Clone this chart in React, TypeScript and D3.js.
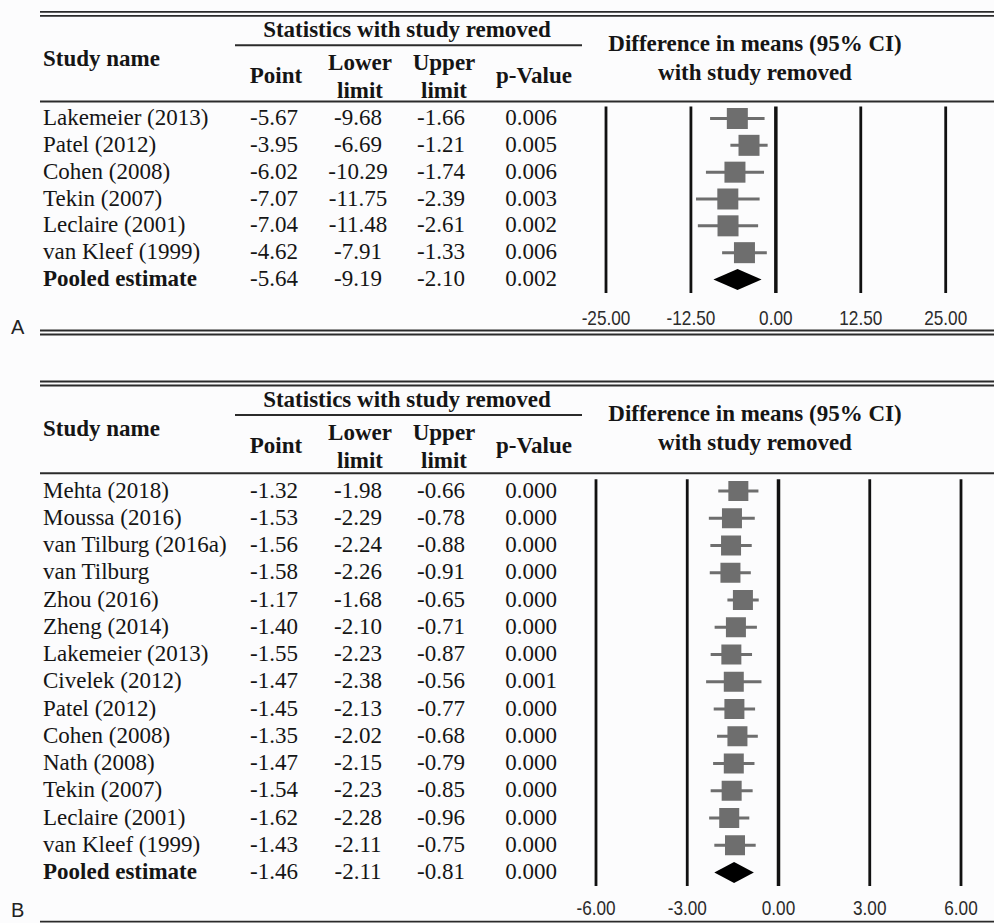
import React from "react";
import * as d3 from "d3";

// ---- panel A data ----
const studiesA = ["Lakemeier (2013)", "Patel (2012)", "Cohen (2008)", "Tekin (2007)", "Leclaire (2001)", "van Kleef (1999)"];
const pointA = [-5.67, -3.95, -6.02, -7.07, -7.04, -4.62];
const lowerA = [-9.68, -6.69, -10.29, -11.75, -11.48, -7.91];
const upperA = [-1.66, -1.21, -1.74, -2.39, -2.61, -1.33];
const pValA = ["0.006", "0.005", "0.006", "0.003", "0.002", "0.006"];
const pooledA = { point: -5.64, lower: -9.19, upper: -2.1, p: "0.002" };
const ticksA = [-25, -12.5, 0, 12.5, 25];

// ---- panel B data ----
const studiesB = [
  "Mehta (2018)", "Moussa (2016)", "van Tilburg (2016a)", "van Tilburg", "Zhou (2016)",
  "Zheng (2014)", "Lakemeier (2013)", "Civelek (2012)", "Patel (2012)", "Cohen (2008)",
  "Nath (2008)", "Tekin (2007)", "Leclaire (2001)", "van Kleef (1999)",
];
const pointB = [-1.32, -1.53, -1.56, -1.58, -1.17, -1.4, -1.55, -1.47, -1.45, -1.35, -1.47, -1.54, -1.62, -1.43];
const lowerB = [-1.98, -2.29, -2.24, -2.26, -1.68, -2.1, -2.23, -2.38, -2.13, -2.02, -2.15, -2.23, -2.28, -2.11];
const upperB = [-0.66, -0.78, -0.88, -0.91, -0.65, -0.71, -0.87, -0.56, -0.77, -0.68, -0.79, -0.85, -0.96, -0.75];
const pValB = ["0.000", "0.000", "0.000", "0.000", "0.000", "0.000", "0.000", "0.001", "0.000", "0.000", "0.000", "0.000", "0.000", "0.000"];
const pooledB = { point: -1.46, lower: -2.11, upper: -0.81, p: "0.000" };
const ticksB = [-6, -3, 0, 3, 6];

const W = 994;
const H = 923;
const SERIF = "'Liberation Serif', 'Times New Roman', serif";
const SANS = "'Liberation Sans', Arial, sans-serif";
const INK = "#151515";
const GREY = "#6e6e6e";

// column centres of the table
const COL = { name: 43, point: 274, lower: 358, upper: 441, p: 531 };
const HEAD = { point: 276, lower: 360, upper: 444, p: 534 };

function DoubleLine({ y }: { y: number }) {
  return (
    <g stroke="#2b2b2b" strokeWidth={1.8}>
      <line x1={40} x2={W} y1={y} y2={y} />
      <line x1={40} x2={W} y1={y + 4} y2={y + 4} />
    </g>
  );
}

function ForestPanel(props: any) {
  const {
    studies, points, lowers, uppers, pvals, pooled, ticks,
    xDomain, xRange, y0, headBottom, rowFirst, rowLast,
    lineTop, lineBottom, tickY, bottomY, label, labelY, sq,
  } = props;

  const n = studies.length;
  const x = d3.scaleLinear().domain(xDomain).range(xRange);
  const y = d3.scalePoint<number>().domain(d3.range(n + 1)).range([rowFirst, rowLast]);
  const fmt = (v: number) => v.toFixed(2);
  const textDy = 6.5;
  const pd = y(n)!;
  const dh = 10.5;

  return (
    <g>
      {/* header */}
      <DoubleLine y={y0} />
      <g fontFamily={SERIF} fontWeight="bold" fontSize={23} fill={INK}>
        <text x={407} y={y0 + 25.5} textAnchor="middle">Statistics with study removed</text>
        <text x={COL.name} y={y0 + 54}>Study name</text>
        <text x={HEAD.point} y={y0 + 71.5} textAnchor="middle">Point</text>
        <text x={HEAD.lower} y={y0 + 58} textAnchor="middle">Lower</text>
        <text x={HEAD.lower} y={y0 + 86.5} textAnchor="middle">limit</text>
        <text x={HEAD.upper} y={y0 + 58} textAnchor="middle">Upper</text>
        <text x={HEAD.upper} y={y0 + 86.5} textAnchor="middle">limit</text>
        <text x={HEAD.p} y={y0 + 71} textAnchor="middle">p-Value</text>
        <text x={755} y={y0 + 39.5} textAnchor="middle">Difference in means (95% CI)</text>
        <text x={755} y={y0 + 68.5} textAnchor="middle">with study removed</text>
      </g>
      <line x1={235} x2={582} y1={y0 + 33.5} y2={y0 + 33.5} stroke="#2b2b2b" strokeWidth={2} />
      <line x1={40} x2={W} y1={headBottom} y2={headBottom} stroke="#2b2b2b" strokeWidth={2} />

      {/* table rows */}
      <g fontFamily={SERIF} fontSize={23} fill={INK}>
        {studies.map((s: string, i: number) => (
          <g key={i}>
            <text x={COL.name} y={y(i)! + textDy}>{s}</text>
            <text x={COL.point} y={y(i)! + textDy} textAnchor="middle">{fmt(points[i])}</text>
            <text x={COL.lower} y={y(i)! + textDy} textAnchor="middle">{fmt(lowers[i])}</text>
            <text x={COL.upper} y={y(i)! + textDy} textAnchor="middle">{fmt(uppers[i])}</text>
            <text x={COL.p} y={y(i)! + textDy} textAnchor="middle">{pvals[i]}</text>
          </g>
        ))}
        <text x={COL.name} y={pd + textDy} fontWeight="bold">Pooled estimate</text>
        <text x={COL.point} y={pd + textDy} textAnchor="middle">{fmt(pooled.point)}</text>
        <text x={COL.lower} y={pd + textDy} textAnchor="middle">{fmt(pooled.lower)}</text>
        <text x={COL.upper} y={pd + textDy} textAnchor="middle">{fmt(pooled.upper)}</text>
        <text x={COL.p} y={pd + textDy} textAnchor="middle">{pooled.p}</text>
      </g>

      {/* reference lines */}
      {ticks.map((t: number) => (
        <line key={t} x1={x(t)} x2={x(t)} y1={lineTop} y2={lineBottom}
          stroke="#111" strokeWidth={t === 0 ? 3.5 : 2.8} />
      ))}

      {/* study CIs and squares */}
      {studies.map((s: string, i: number) => (
        <g key={i}>
          <line x1={x(lowers[i])} x2={x(uppers[i])} y1={y(i)} y2={y(i)} stroke={GREY} strokeWidth={3} />
          <rect x={x(points[i]) - sq / 2} y={y(i)! - sq / 2} width={sq} height={sq} fill={GREY} />
        </g>
      ))}

      {/* pooled diamond */}
      <path
        d={`M${x(pooled.lower)},${pd} L${x(pooled.point)},${pd - dh} L${x(pooled.upper)},${pd} L${x(pooled.point)},${pd + dh} Z`}
        fill="#000"
      />

      {/* axis labels */}
      <g fontFamily={SANS} fontSize={20} fill="#2b2b2b">
        {ticks.map((t: number) => (
          <text key={t} transform={`translate(${x(t)},${tickY}) scale(0.86,1)`} textAnchor="middle">
            {t.toFixed(2)}
          </text>
        ))}
      </g>

      <DoubleLine y={bottomY} />
      <text x={11} y={labelY} fontFamily={SANS} fontSize={20} fill="#222">{label}</text>
    </g>
  );
}

export default function App() {
  return (
    <svg width={W} height={H} style={{ position: "absolute", left: 0, top: 0, background: "#fcfcfd" }}>
      <ForestPanel
        studies={studiesA} points={pointA} lowers={lowerA} uppers={upperA} pvals={pValA}
        pooled={pooledA} ticks={ticksA} xDomain={[-25, 25]} xRange={[606, 945.7]}
        y0={11.8} headBottom={101.6} rowFirst={118.5} rowLast={279.5}
        lineTop={106.5} lineBottom={293} tickY={325} bottomY={330.5}
        label="A" labelY={334} sq={21}
      />
      <ForestPanel
        studies={studiesB} points={pointB} lowers={lowerB} uppers={upperB} pvals={pValB}
        pooled={pooledB} ticks={ticksB} xDomain={[-6, 6]} xRange={[596, 961]}
        y0={381.5} headBottom={473.3} rowFirst={491} rowLast={872.5}
        lineTop={479.3} lineBottom={886} tickY={914.5} bottomY={921.7}
        label="B" labelY={917} sq={20}
      />
    </svg>
  );
}
